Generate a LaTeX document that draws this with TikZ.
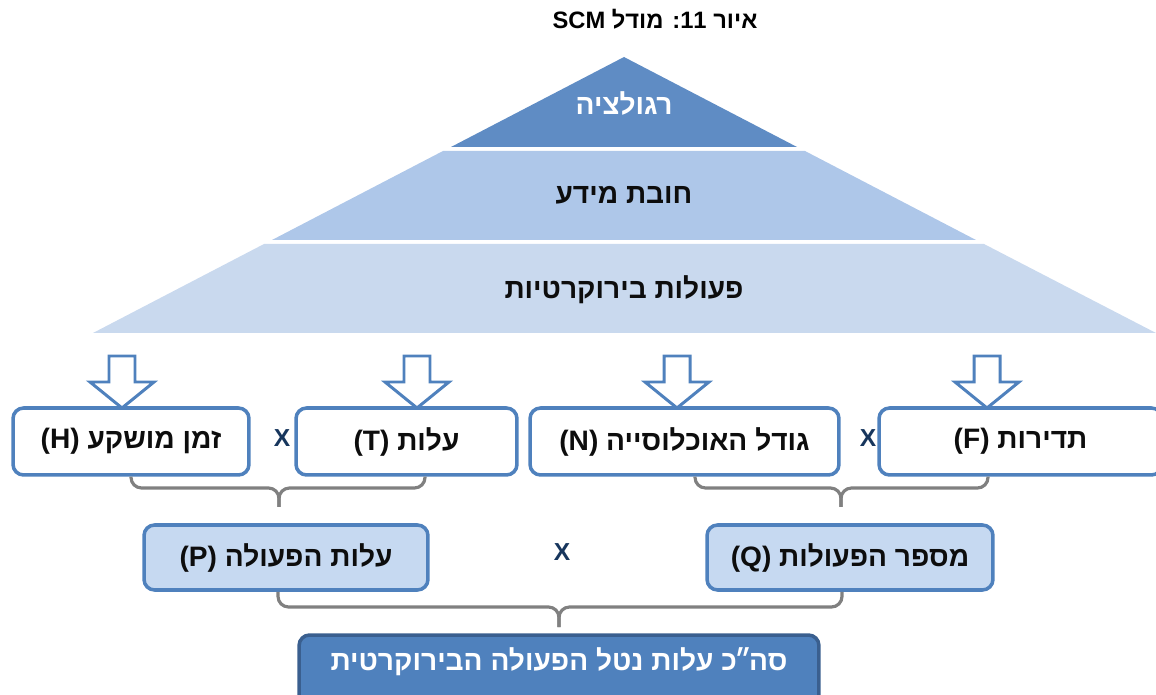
\documentclass[tikz,border=0pt]{standalone}
\usepackage{fontspec}
\setmainfont{Liberation Sans}
\newfontfamily\heb[Script=Hebrew]{Liberation Sans}
\TeXXeTstate=1
\usetikzlibrary{calc}
\newcommand\hebtxt[1]{{\heb\bfseries\beginR #1\endR}}
\definecolor{toptri}{HTML}{5F8CC4}
\definecolor{midtri}{HTML}{AEC7E9}
\definecolor{bottri}{HTML}{C9D9EE}
\definecolor{boxline}{HTML}{4F81BD}
\definecolor{boxfill}{HTML}{C6D9F1}
\definecolor{totfill}{HTML}{4F81BD}
\definecolor{totline}{HTML}{3A5F8F}
\definecolor{bracecol}{HTML}{808080}
\definecolor{xcol}{HTML}{17365D}
\definecolor{txtcol}{HTML}{0D0D0D}
\tikzset{
  layertext/.style={font=\fontsize{16}{19}\selectfont, text=txtcol},
  whitebox/.style={draw=boxline, line width=2pt, fill=white, rounded corners=6pt,
    minimum height=1.34cm, font=\fontsize{16}{19}\selectfont, text=txtcol, inner sep=0pt},
  bluebox/.style={draw=boxline, line width=2pt, fill=boxfill, rounded corners=6pt,
    minimum height=1.3cm, font=\fontsize{16}{19}\selectfont, text=txtcol, inner sep=0pt},
  totbox/.style={draw=totline, line width=2pt, fill=totfill, rounded corners=6pt,
    minimum height=1.4cm, inner sep=0pt},
  brace/.style={draw=bracecol, line width=1.8pt, rounded corners=6pt},
  timesx/.style={font=\bfseries\fontsize{14}{16}\selectfont, text=xcol},
  arrline/.style={draw=boxline, line width=1.7pt, fill=white, line join=miter},
  blockarr/.pic={
    \draw[arrline] (-13,0) -- (-13,26) -- (-32,26) -- (0,52) -- (32,26) -- (13,26) -- (13,0) -- cycle;
  }
}
\begin{document}
\begin{tikzpicture}[x=0.02cm,y=-0.02cm]
\useasboundingbox (0,0) rectangle (1156,695);
% title
\node[font=\fontsize{13.5}{16}\selectfont, text=black] (title) at (655,19)
  {{\heb\bfseries\beginR איור \beginL11\endL: מודל \beginL SCM\endL\endR}};
% pyramid layers
\fill[toptri] (624,57) -- (797,147) -- (451,147) -- cycle;
\fill[midtri] (443,151) -- (805,151) -- (976,240) -- (272,240) -- cycle;
\fill[bottri] (264,244) -- (984,244) -- (1156,333) -- (93,333) -- cycle;
\node[layertext, text=white] (reg) at (624,103) {\hebtxt{רגולציה}};
\node[layertext] (info) at (624,195) {\hebtxt{חובת מידע}};
\node[layertext] (bur) at (624,290) {\hebtxt{פעולות בירוקרטיות}};
% block arrows
\pic at (122,356) {blockarr};
\pic at (417,356) {blockarr};
\pic at (677,356) {blockarr};
\pic at (987,356) {blockarr};
% first row
\node[whitebox, minimum width=4.72cm] (H) at (131,441.5) {\hebtxt{זמן מושקע \beginL(H)\endL}};
\node[whitebox, minimum width=4.42cm] (T) at (406.5,441.5) {\hebtxt{עלות \beginL(T)\endL}};
\node[whitebox, minimum width=6.18cm] (N) at (684.5,441.5) {\hebtxt{גודל האוכלוסייה \beginL(N)\endL}};
\node[whitebox, minimum width=5.66cm] (F) at (1020.5,441.5) {\hebtxt{תדירות \beginL(F)\endL}};
\node[timesx] (x1) at (282,438) {X};
\node[timesx] (x2) at (868,438) {X};
% braces row 1
\coordinate (b1l) at (H.south);
\coordinate (b1r) at ([xshift=0.37cm]T.south);
\coordinate (b1m) at (279,507);
\draw[brace] (b1l) |- ($(b1m)+(0,-19)$) -- (b1m);
\draw[brace] (b1r) |- ($(b1m)+(0,-19)$) -- (b1m);
\coordinate (b2l) at ([xshift=0.21cm]N.south);
\coordinate (b2r) at ([xshift=-0.65cm]F.south);
\coordinate (b2m) at (841,507);
\draw[brace] (b2l) |- ($(b2m)+(0,-19)$) -- (b2m);
\draw[brace] (b2r) |- ($(b2m)+(0,-19)$) -- (b2m);
% second row
\node[bluebox, minimum width=5.68cm] (P) at (286,557.5) {\hebtxt{עלות הפעולה \beginL(P)\endL}};
\node[bluebox, minimum width=5.72cm] (Q) at (850,557.5) {\hebtxt{מספר הפעולות \beginL(Q)\endL}};
\node[timesx] (x3) at (562,552) {X};
% bottom brace
\coordinate (b3l) at ([xshift=-0.16cm]P.south);
\coordinate (b3r) at ([xshift=-0.16cm]Q.south);
\coordinate (b3m) at (559,627);
\draw[brace] (b3l) |- ($(b3m)+(0,-20)$) -- (b3m);
\draw[brace] (b3r) |- ($(b3m)+(0,-20)$) -- (b3m);
% total box
\node[totbox, minimum width=10.4cm] (tot) at (559,670) {};
\node[font=\fontsize{16}{19}\selectfont, text=white] (totlbl) at (559,662) {\hebtxt{סה\kern-1.5pt״\kern-1.5ptכ עלות נטל הפעולה הבירוקרטית}};
\end{tikzpicture}
\end{document}
